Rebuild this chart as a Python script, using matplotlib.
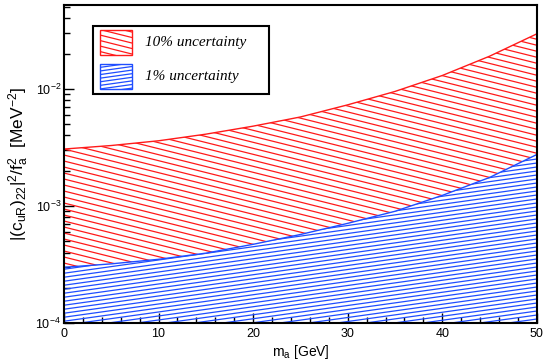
import numpy as np
import matplotlib
matplotlib.use("Agg")
import matplotlib.pyplot as plt
from matplotlib.collections import LineCollection
from matplotlib.patches import Polygon, Rectangle
from matplotlib.ticker import MultipleLocator, LogLocator, NullFormatter

plt.rcParams["font.family"] = ["Liberation Sans", "DejaVu Sans"]
plt.rcParams["mathtext.default"] = "regular"

# Data
m_a = [0, 5, 10, 15, 20, 25, 30, 35, 40, 45, 50]                   # GeV
bound_10pct = [3.06e-3, 3.28e-3, 3.6e-3, 4.1e-3, 4.8e-3, 5.75e-3,
               7.3e-3, 9.5e-3, 1.30e-2, 1.90e-2, 2.95e-2]           # MeV^-2
bound_1pct = [2.99e-4, 3.2e-4, 3.5e-4, 3.95e-4, 4.7e-4, 5.7e-4,
              7.1e-4, 9.0e-4, 1.23e-3, 1.75e-3, 2.75e-3]            # MeV^-2
labels = ["10% uncertainty", "1% uncertainty"]

Y_MIN, Y_MAX = 1e-4, 0.052
RED = "#ff1a1a"
BLUE = "#1f4dff"

fig = plt.figure(figsize=(5.51, 3.62), dpi=100)
ax = fig.add_axes([0.116, 0.1077, 0.8584, 0.8785])
ax.set_yscale("log")
ax.set_xlim(0, 50)
ax.set_ylim(Y_MIN, Y_MAX)


def hatch(ax, clip, slope, spacing, color, lw=0.9):
    """ Draw parallel lines (slope and spacing in screen pixels) clipped to a patch.
    """
    bbox = ax.get_position()
    w = bbox.width * fig.get_figwidth() * fig.dpi
    h = bbox.height * fig.get_figheight() * fig.dpi
    c_min = min(0, -slope * w) - spacing
    c_max = max(h, h - slope * w) + spacing
    segs = [[(0, c / h), (1, (c + slope * w) / h)] for c in np.arange(c_min, c_max, spacing)]
    lc = LineCollection(segs, colors=color, linewidths=lw, transform=ax.transAxes)
    ax.add_collection(lc, autolim=False)
    lc.set_clip_path(clip)
    return lc


# Regions: 10% band between the two bounds, 1% band below the lower bound
x = np.asarray(m_a, dtype=float)
red_verts = list(zip(x, bound_10pct)) + list(zip(x[::-1], bound_1pct[::-1]))
blue_verts = list(zip(x, bound_1pct)) + [(x[-1], Y_MIN), (x[0], Y_MIN)]
red_poly = Polygon(red_verts, closed=True, transform=ax.transData)
blue_poly = Polygon(blue_verts, closed=True, transform=ax.transData)

hatch(ax, red_poly, -0.25, 6.0, RED)
hatch(ax, blue_poly, 0.14, 4.0, BLUE)

ax.plot(m_a, bound_10pct, color=RED, lw=1.0)
ax.plot(m_a, bound_1pct, color=BLUE, lw=1.0)

# Hand-made legend
ax.add_patch(Rectangle((0.0613, 0.720), 0.372, 0.214, transform=ax.transAxes,
                       facecolor="white", edgecolor="black", lw=1.5, zorder=3))
for (y0, color, slope, spacing, label) in [(0.843, RED, -0.25, 5.5, labels[0]),
                                           (0.736, BLUE, 0.14, 3.6, labels[1])]:
    box = Rectangle((0.0761, y0), 0.0677, 0.077, transform=ax.transAxes,
                    facecolor="none", edgecolor=color, lw=1.0, zorder=4)
    ax.add_patch(box)
    clip = Rectangle((0.0761, y0), 0.0677, 0.077, transform=ax.transAxes)
    lc = hatch(ax, clip, slope, spacing, color)
    lc.set_zorder(4)
    ax.text(0.1712, y0 + 0.0385, label, transform=ax.transAxes, ha="left", va="center",
            family="Liberation Serif", style="italic", fontsize=11, zorder=5)

# Axes styling
ax.xaxis.set_major_locator(MultipleLocator(10))
ax.xaxis.set_minor_locator(MultipleLocator(2))
ax.yaxis.set_major_locator(LogLocator(base=10))
ax.yaxis.set_minor_locator(LogLocator(base=10, subs=np.arange(2, 10)))
ax.yaxis.set_minor_formatter(NullFormatter())
ax.tick_params(which="both", direction="in", top=False, right=False, width=1.0)
ax.tick_params(which="major", length=7, labelsize=9)
ax.tick_params(axis="y", which="major", pad=2)
ax.tick_params(which="minor", length=4)
for spine in ax.spines.values():
    spine.set_linewidth(1.5)

ax.set_xlabel(r"m$_a$ [GeV]", fontsize=10, labelpad=2)
ax.set_ylabel(r"$|(c_{uR})_{22}|^2/f_a^2$  [MeV$^{-2}$]", fontsize=12.5, labelpad=3)

fig.savefig("out.png", dpi=100)
